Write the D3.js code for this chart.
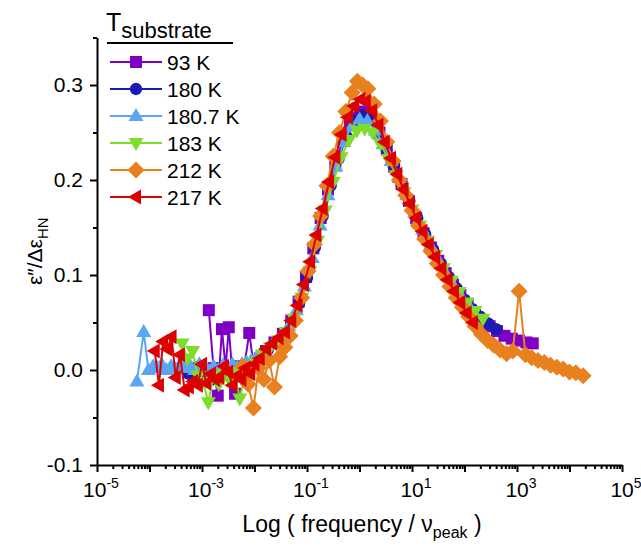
<!DOCTYPE html>
<html>
<head>
<meta charset="utf-8">
<script src="https://cdn.jsdelivr.net/npm/d3@7"></script>
<style>
  body { margin: 0; background: #fff; }
  text { font-family: "Liberation Sans", Arial, sans-serif; fill: #000; }
</style>
</head>
<body>
<div id="chart"></div>
<script>
// legend labels and colours, in plotting order
const seriesNames = ["93 K", "180 K", "180.7 K", "183 K", "212 K", "217 K"];
const seriesColors = ["#7d00c4", "#1a1ab4", "#5aa5f5", "#7ddc2c", "#e8801e", "#dc0000"];
const seriesMarkers = ["square", "circle", "triUp", "triDown", "diamond", "triLeft"];

// [log10(f / f_peak), eps'' / delta eps_HN]
const s93 = [[-2.87,0.063],[-2.78,0.002],[-2.7,-0.027],[-2.62,0.043],[-2.55,0.002],[-2.49,0.045],[-2.43,0.001],[-2.37,-0.025],[-2.28,0.004],[-2.2,0.002],[-2.1,0.039],[-2.02,0.006],[-1.9,0.012],[-1.78,0.020],[-1.62,0.029],[-1.46,0.038],[-1.3,0.052],[-1.16,0.072],[-1.02,0.098],[-0.88,0.128],[-0.74,0.160],[-0.6,0.190],[-0.46,0.218],[-0.32,0.242],[-0.18,0.260],[-0.04,0.270],[0.1,0.272],[0.24,0.264],[0.38,0.250],[0.52,0.232],[0.66,0.214],[0.8,0.196],[0.94,0.178],[1.08,0.160],[1.22,0.144],[1.36,0.129],[1.5,0.115],[1.64,0.102],[1.78,0.090],[1.92,0.079],[2.06,0.069],[2.2,0.060],[2.34,0.052],[2.48,0.046],[2.62,0.041],[2.76,0.036],[2.9,0.033],[3.04,0.031],[3.18,0.029],[3.3,0.028]];
const s180 = [[-3.4,0.002],[-3.25,-0.004],[-3.1,0.003],[-2.95,-0.006],[-2.8,-0.010],[-2.65,-0.003],[-2.5,0.002],[-2.35,-0.004],[-2.2,0.003],[-2.05,0.006],[-1.9,0.012],[-1.75,0.021],[-1.6,0.029],[-1.45,0.037],[-1.3,0.050],[-1.15,0.070],[-1.0,0.097],[-0.85,0.129],[-0.7,0.162],[-0.55,0.194],[-0.4,0.222],[-0.25,0.246],[-0.1,0.262],[0.05,0.268],[0.2,0.263],[0.35,0.251],[0.5,0.234],[0.65,0.215],[0.8,0.196],[0.95,0.178],[1.1,0.160],[1.25,0.143],[1.4,0.127],[1.55,0.112],[1.7,0.098],[1.85,0.086],[2.0,0.074],[2.15,0.064],[2.3,0.056],[2.45,0.049],[2.6,0.043]];
const s1807 = [[-4.24,-0.012],[-4.11,0.040],[-4.02,0.000],[-3.93,0.004],[-3.85,0.002],[-3.77,0.006],[-3.68,0.000],[-3.59,0.004],[-3.5,0.001],[-3.41,0.006],[-3.32,0.002],[-3.23,0.005],[-3.14,0.000],[-3.05,0.006],[-2.96,0.003],[-2.87,-0.001],[-2.78,0.004],[-2.69,0.000],[-2.6,0.005],[-2.51,0.002],[-2.42,0.006],[-2.33,0.003],[-2.24,0.006],[-2.15,0.008],[-2.06,0.010],[-1.95,0.014],[-1.8,0.020],[-1.65,0.028],[-1.5,0.036],[-1.35,0.046],[-1.2,0.063],[-1.05,0.088],[-0.9,0.118],[-0.75,0.152],[-0.6,0.184],[-0.45,0.214],[-0.3,0.240],[-0.15,0.256],[0.0,0.264],[0.15,0.262],[0.3,0.252],[0.45,0.238],[0.6,0.220],[0.75,0.202],[0.9,0.184],[1.05,0.166],[1.2,0.148],[1.35,0.131],[1.5,0.116],[1.65,0.101],[1.8,0.088],[1.95,0.076],[2.1,0.066]];
const s183 = [[-3.38,0.028],[-3.28,0.012],[-3.18,0.020],[-3.08,-0.006],[-2.98,-0.012],[-2.88,-0.034],[-2.78,-0.006],[-2.68,-0.015],[-2.58,-0.004],[-2.48,-0.010],[-2.38,-0.002],[-2.28,-0.030],[-2.18,-0.005],[-2.08,0.004],[-1.98,0.008],[-1.85,0.016],[-1.7,0.024],[-1.55,0.031],[-1.4,0.040],[-1.25,0.054],[-1.1,0.076],[-0.95,0.104],[-0.8,0.136],[-0.65,0.168],[-0.5,0.198],[-0.35,0.224],[-0.2,0.242],[-0.05,0.252],[0.1,0.254],[0.25,0.250],[0.4,0.238],[0.55,0.222],[0.7,0.205],[0.85,0.187],[1.0,0.169],[1.15,0.152],[1.3,0.136],[1.45,0.121],[1.6,0.107],[1.75,0.094],[1.9,0.082],[2.05,0.071],[2.2,0.062],[2.35,0.054]];
const s212 = [[-2.22,0.004],[-2.12,-0.015],[-2.02,-0.040],[-1.92,0.002],[-1.82,-0.010],[-1.72,0.010],[-1.62,-0.018],[-1.52,0.014],[-1.42,0.024],[-1.32,0.036],[-1.22,0.052],[-1.1,0.076],[-0.98,0.104],[-0.86,0.132],[-0.74,0.162],[-0.62,0.194],[-0.5,0.225],[-0.38,0.250],[-0.26,0.272],[-0.14,0.292],[-0.04,0.304],[0.06,0.300],[0.16,0.296],[0.28,0.280],[0.4,0.262],[0.52,0.240],[0.64,0.220],[0.76,0.200],[0.88,0.184],[1.0,0.168],[1.12,0.152],[1.24,0.138],[1.36,0.125],[1.48,0.112],[1.6,0.100],[1.72,0.088],[1.84,0.076],[1.96,0.066],[2.08,0.056],[2.2,0.046],[2.32,0.038],[2.44,0.031],[2.56,0.026],[2.68,0.021],[2.8,0.017],[2.92,0.020],[3.04,0.083],[3.16,0.016],[3.28,0.013],[3.4,0.010],[3.52,0.008],[3.64,0.005],[3.76,0.003],[3.88,0.001],[4.0,-0.002],[4.12,-0.003],[4.26,-0.006]];
const s217 = [[-3.9,0.020],[-3.82,-0.016],[-3.74,0.030],[-3.66,0.022],[-3.58,0.035],[-3.5,-0.008],[-3.42,0.016],[-3.33,-0.021],[-3.25,-0.018],[-3.17,-0.012],[-3.08,-0.016],[-3.0,0.006],[-2.92,-0.014],[-2.83,-0.004],[-2.75,-0.010],[-2.67,-0.008],[-2.58,0.004],[-2.5,-0.002],[-2.42,-0.016],[-2.33,-0.006],[-2.25,-0.010],[-2.17,0.002],[-2.08,-0.004],[-2.0,0.006],[-1.9,0.012],[-1.78,0.022],[-1.66,0.028],[-1.54,0.034],[-1.42,0.040],[-1.3,0.052],[-1.18,0.068],[-1.06,0.090],[-0.94,0.114],[-0.82,0.142],[-0.7,0.170],[-0.58,0.198],[-0.46,0.224],[-0.34,0.248],[-0.22,0.266],[-0.1,0.278],[0.02,0.285],[0.12,0.283],[0.24,0.273],[0.36,0.258],[0.48,0.240],[0.6,0.223],[0.72,0.206],[0.84,0.190],[0.96,0.175],[1.08,0.160],[1.2,0.146],[1.32,0.132],[1.44,0.119],[1.56,0.107],[1.68,0.095],[1.8,0.083],[1.92,0.071],[2.04,0.060],[2.16,0.050]];
const allSeries = [s93, s180, s1807, s183, s212, s217];

// axis ticks
const yMajor = [-0.1, 0.0, 0.1, 0.2, 0.3];
const yMinor = [-0.05, 0.05, 0.15, 0.25, 0.35];
const xDecades = [-5, -4, -3, -2, -1, 0, 1, 2, 3, 4, 5];
const xLabelled = [-5, -3, -1, 1, 3, 5];

class LossChart {
  constructor() {
    this.svgWidth = 641;
    this.svgHeight = 546;
    this.margin = {top: 37.5, right: 19, bottom: 81, left: 97};

    this.svg = d3.select("#chart").append("svg")
      .attr("width", this.svgWidth)
      .attr("height", this.svgHeight);

    this.xScale = d3.scaleLog()
      .domain([1e-5, 1e5])
      .range([this.margin.left, this.svgWidth - this.margin.right]);
    this.yScale = d3.scaleLinear()
      .domain([-0.1, 0.35])
      .range([this.svgHeight - this.margin.bottom, this.margin.top]);
  }

  marker(kind) {
    if (kind === "square") return "M-6,-6h12v12h-12Z";
    if (kind === "circle") return d3.symbol(d3.symbolCircle, 120)();
    if (kind === "triUp") return "M0,-8L7.5,5L-7.5,5Z";
    if (kind === "triDown") return "M0,8L7.5,-5L-7.5,-5Z";
    if (kind === "triLeft") return "M-8,0L5,-7.5L5,7.5Z";
    return "M0,-8.5L8.5,0L0,8.5L-8.5,0Z";
  }

  drawAxes() {
    let x = this.xScale, y = this.yScale;
    let bottom = this.svgHeight - this.margin.bottom;

    // y axis: majors with labels, minors in between
    let yAxis = this.svg.append("g")
      .attr("transform", "translate(" + this.margin.left + ",0)")
      .call(d3.axisLeft(y).tickValues(yMajor).tickSize(7).tickSizeOuter(0)
        .tickPadding(7).tickFormat(d => d.toFixed(1)));
    this.svg.append("g")
      .attr("transform", "translate(" + this.margin.left + ",0)")
      .call(d3.axisLeft(y).tickValues(yMinor).tickSize(4).tickFormat(""))
      .select(".domain").remove();
    yAxis.selectAll("text").style("font-size", "21px");

    // x axis: a tick every decade, 2..9 minors, labels every second decade
    let xMinor = [];
    xDecades.slice(0, -1).forEach(e => {
      for (let m = 2; m < 10; m++) xMinor.push(m * Math.pow(10, e));
    });
    this.svg.append("g")
      .attr("transform", "translate(0," + bottom + ")")
      .call(d3.axisBottom(x).tickValues(xDecades.map(e => Math.pow(10, e)))
        .tickSize(7).tickSizeOuter(0).tickFormat(""));
    this.svg.append("g")
      .attr("transform", "translate(0," + bottom + ")")
      .call(d3.axisBottom(x).tickValues(xMinor).tickSize(4).tickFormat(""))
      .select(".domain").remove();

    let xLab = this.svg.append("g");
    xLabelled.forEach(e => {
      let t = xLab.append("text")
        .attr("x", x(Math.pow(10, e)) + 4)
        .attr("y", bottom + 32)
        .attr("text-anchor", "middle")
        .style("font-size", "21px");
      t.append("tspan").text("10");
      t.append("tspan").attr("dy", -9).style("font-size", "14px").text(e);
    });

    this.svg.selectAll(".domain, .tick line")
      .attr("stroke", "#000")
      .attr("stroke-width", 2);

    // axis titles
    let yt = this.svg.append("text")
      .attr("transform", "translate(42," + y(0.125) + ") rotate(-90)")
      .attr("text-anchor", "middle")
      .style("font-size", "21px");
    yt.append("tspan").text("\u03b5\u2033/\u0394\u03b5");
    yt.append("tspan").attr("dy", 6).style("font-size", "15px").text("HN");

    let xt = this.svg.append("text")
      .attr("x", 362)
      .attr("y", 532)
      .attr("text-anchor", "middle")
      .style("font-size", "23px");
    xt.append("tspan").text("Log ( frequency / \u03bd");
    xt.append("tspan").attr("dy", 6).style("font-size", "16px").text("peak");
    xt.append("tspan").attr("dy", -6).text(" )");
  }

  drawSeries() {
    let x = this.xScale, y = this.yScale;
    let line = d3.line()
      .x(d => x(Math.pow(10, d[0])))
      .y(d => y(d[1]));

    allSeries.forEach((data, i) => {
      let g = this.svg.append("g");
      g.append("path")
        .datum(data)
        .attr("d", line)
        .attr("fill", "none")
        .attr("stroke", seriesColors[i])
        .attr("stroke-width", 2);
      g.selectAll("path.pt")
        .data(data)
        .enter()
        .append("path")
        .attr("class", "pt")
        .attr("d", this.marker(seriesMarkers[i]))
        .attr("transform", d => "translate(" + x(Math.pow(10, d[0])) + "," + y(d[1]) + ")")
        .attr("fill", seriesColors[i]);
    });
  }

  drawLegend() {
    let lg = this.svg.append("g");
    let title = lg.append("text").attr("x", 106).attr("y", 31);
    title.append("tspan").style("font-size", "25px").text("T");
    title.append("tspan").attr("dy", 7).style("font-size", "22px").text("substrate");
    lg.append("line")
      .attr("x1", 107).attr("x2", 233)
      .attr("y1", 43).attr("y2", 43)
      .attr("stroke", "#000").attr("stroke-width", 2);

    seriesNames.forEach((name, i) => {
      let yy = 62 + i * 27;
      lg.append("line")
        .attr("x1", 110).attr("x2", 162)
        .attr("y1", yy).attr("y2", yy)
        .attr("stroke", seriesColors[i]).attr("stroke-width", 2);
      lg.append("path")
        .attr("d", this.marker(seriesMarkers[i]))
        .attr("transform", "translate(136," + yy + ")")
        .attr("fill", seriesColors[i]);
      lg.append("text")
        .attr("x", 167).attr("y", yy + 8)
        .style("font-size", "21px")
        .text(name);
    });
  }
}

let chart = new LossChart();
chart.drawAxes();
chart.drawSeries();
chart.drawLegend();
</script>
</body>
</html>
